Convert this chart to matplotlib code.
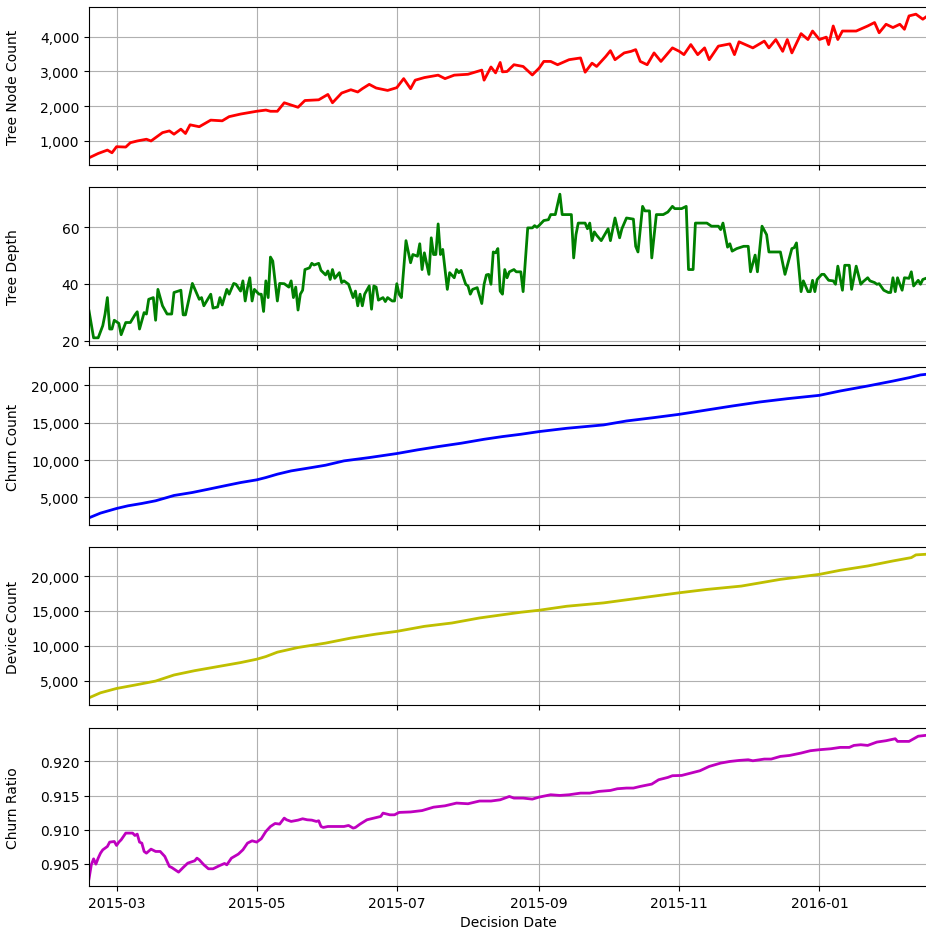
import matplotlib
matplotlib.use("Agg")
import matplotlib.pyplot as plt
import matplotlib.dates as mdates
import matplotlib.ticker as mticker
import pandas as pd


# Data (days counted from the first decision date)
start_date = pd.Timestamp("2015-02-17")
end_day = 365

node_days = [0, 4, 8, 10, 12, 16, 18, 21, 25, 27, 32, 35, 37, 40, 42, 44, 48, 53, 58, 61,
             66, 73, 77, 79, 82, 85, 91, 94, 100, 104, 106, 110, 114, 117, 119, 122, 125,
             130, 134, 137, 140, 142, 146, 152, 155, 159, 165, 171, 172, 175, 177, 179, 180,
             182, 185, 189, 193, 196, 198, 201, 204, 209, 214, 216, 219, 221, 225, 227, 229,
             233, 236, 238, 240, 243, 246, 249, 254, 257, 259, 262, 265, 268, 270, 274, 279,
             281, 283, 289, 294, 296, 299, 302, 304, 306, 310, 313, 315, 318, 321, 322, 324,
             326, 328, 334, 339, 342, 344, 347, 350, 353, 355, 357, 360, 363, 365]
node_count = [515, 640, 738, 660, 835, 825, 950, 1000, 1050, 1000, 1240, 1290, 1195, 1340,
              1215, 1465, 1410, 1600, 1580, 1700, 1775, 1855, 1890, 1855, 1855, 2100, 1970,
              2165, 2185, 2340, 2100, 2380, 2475, 2410, 2505, 2630, 2525, 2455, 2535, 2795,
              2505, 2750, 2825, 2895, 2795, 2895, 2920, 3040, 2750, 3130, 2960, 3260, 2990,
              3000, 3195, 3145, 2900, 3100, 3290, 3290, 3195, 3340, 3390, 2980, 3240, 3145,
              3435, 3600, 3340, 3535, 3580, 3630, 3290, 3195, 3535, 3290, 3680, 3580, 3485,
              3775, 3485, 3680, 3340, 3730, 3795, 3485, 3855, 3680, 3875, 3680, 3920, 3580,
              3920, 3535, 4090, 3920, 4165, 3920, 3990, 3775, 4310, 3920, 4165, 4165, 4310,
              4410, 4115, 4360, 4265, 4360, 4215, 4600, 4650, 4505, 4600]

depth_days = [0, 2, 4, 6, 7, 8, 9, 10, 11, 13, 14, 16, 18, 20, 21, 22, 24, 25, 26, 28, 29,
              30, 32, 34, 36, 37, 40, 41, 42, 45, 48, 49, 50, 53, 54, 56, 57, 58, 60, 61, 63,
              64, 66, 67, 68, 69, 70, 71, 72, 74, 75, 76, 77, 78, 79, 80, 82, 83, 85, 87, 88,
              89, 90, 91, 92, 93, 94, 96, 97, 98, 100, 101, 103, 104, 105, 106, 107, 109, 110,
              111, 113, 114, 115, 116, 117, 118, 119, 120, 122, 123, 124, 125, 126, 128, 129,
              130, 132, 133, 134, 135, 136, 138, 140, 141, 143, 144, 145, 146, 148, 149, 150,
              151, 152, 153, 154, 156, 157, 159, 160, 161, 162, 164, 165, 166, 167, 169, 171,
              172, 173, 174, 175, 176, 177, 178, 179, 180, 181, 182, 183, 185, 186, 188, 189,
              191, 193, 194, 195, 196, 198, 200, 201, 203, 205, 206, 210, 211, 212, 213, 216,
              217, 218, 219, 220, 221, 223, 226, 227, 229, 231, 232, 234, 237, 238, 239, 241,
              242, 244, 245, 247, 250, 252, 254, 255, 258, 260, 261, 263, 264, 269, 271, 274,
              275, 276, 278, 279, 280, 282, 285, 287, 288, 290, 291, 293, 295, 296, 301, 303,
              306, 307, 308, 310, 311, 313, 314, 315, 316, 317, 319, 320, 322, 324, 325, 326,
              328, 329, 331, 332, 334, 336, 337, 339, 340, 342, 343, 344, 346, 348, 349, 350,
              351, 352, 353, 354, 355, 357, 358, 359, 361, 362, 363, 365]
depth = [30.5, 21, 21, 25.3, 29.4, 35.2, 24.1, 24.1, 27.2, 26.1, 22.1, 26.4, 26.4, 29.1,
         30.2, 24.1, 29.9, 29.4, 34.6, 35.2, 27.2, 38.1, 32.3, 29.4, 29.4, 37, 37.8, 29.1,
         29.1, 40.2, 34.6, 35.2, 32.3, 36.4, 31.5, 31.9, 35.2, 32.6, 38.1, 36.4, 40.2, 39.9,
         37.5, 41.1, 34, 38.7, 42.2, 34, 38.1, 36.4, 36.4, 30.3, 41.1, 35.2, 49.5, 48.1, 34,
         40.2, 40.1, 38.9, 41.1, 35.2, 38.9, 30.8, 36.4, 37.8, 45.1, 45.7, 47.3, 46.7, 47.3,
         44.8, 43.2, 44.6, 41.6, 45.1, 42, 44, 40.5, 41.1, 39.9, 37.5, 35.2, 37.5, 32.3, 36.4,
         32.3, 36.4, 39.3, 31.1, 39.3, 38.9, 34.3, 35.2, 33.8, 35.2, 34, 34, 40.1, 36.4, 35.2,
         55.3, 47.5, 50.4, 49.8, 54.2, 45.1, 51, 43.4, 56.3, 50.4, 50.4, 61.2, 50.4, 52.2,
         38.1, 44, 42.2, 45.1, 44, 44.8, 39.9, 39.3, 36.4, 38.1, 38.7, 33.1, 39.9, 43.2, 43.4,
         39.9, 51.3, 51, 52.5, 37.5, 36.4, 45.1, 42.2, 44.3, 45.1, 44.3, 44.3, 37.3, 59.8,
         59.8, 60.6, 60, 60.7, 62.4, 62.7, 64.5, 64.5, 71.7, 64.5, 64.5, 49.2, 57.4, 61.5,
         61.5, 59.5, 61.5, 55.3, 58.4, 57.2, 55.3, 59.5, 55.3, 63.3, 56.3, 59.5, 63.3, 62.9,
         53.3, 51.3, 67.4, 65.8, 65.8, 49.2, 64.5, 64.5, 65.4, 67.4, 66.6, 66.6, 67.4, 45.1,
         45.1, 61.5, 61.5, 60.4, 60.4, 59.2, 61.5, 53, 54.2, 51.6, 52.5, 53.3, 53.3, 44.3,
         50.2, 44.3, 60.4, 57.4, 51.3, 51.3, 43.4, 52.5, 52.8, 54.5, 37.3, 41.1, 37.3, 37.3,
         41.3, 37.3, 41.6, 43.4, 43.4, 41.3, 41.1, 39.9, 46.3, 37.8, 46.6, 46.6, 38.1, 46.3,
         39.9, 40.8, 42.2, 41.1, 40.5, 39.9, 40.1, 37.8, 37, 37, 42.2, 37.3, 42.2, 39.9, 37.8,
         42.2, 42, 44.3, 39.3, 41.3, 39.9, 41.6, 42.2]

churn_days = [0, 5, 12, 17, 23, 29, 34, 37, 45, 52, 59, 66, 73, 77, 82, 88, 97, 103, 111,
              122, 134, 143, 152, 162, 172, 180, 188, 196, 208, 224, 234, 246, 257, 269, 280,
              292, 304, 318, 327, 339, 350, 357, 362, 365]
churn_count = [2280, 2910, 3530, 3890, 4200, 4560, 5000, 5270, 5670, 6110, 6560, 7000, 7360,
               7670, 8120, 8560, 9010, 9320, 9900, 10340, 10880, 11370, 11810, 12260, 12790,
               13150, 13460, 13820, 14260, 14710, 15240, 15690, 16130, 16710, 17240, 17780,
               18220, 18670, 19250, 19920, 20580, 21030, 21400, 21500]

device_days = [0, 5, 12, 20, 29, 37, 46, 56, 66, 73, 77, 82, 91, 103, 114, 125, 134, 146,
               158, 170, 180, 188, 196, 208, 224, 246, 257, 269, 284, 301, 318, 327, 339,
               350, 358, 360, 365]
device_count = [2550, 3270, 3890, 4380, 4950, 5820, 6440, 7020, 7600, 8080, 8460, 9090, 9760,
                10390, 11110, 11680, 12070, 12790, 13270, 13990, 14450, 14810, 15100, 15670,
                16150, 17120, 17600, 18080, 18560, 19520, 20240, 20820, 21440, 22160, 22640,
                23030, 23130]

ratio_days = [0, 1, 2, 3, 4, 5, 6, 8, 9, 11, 12, 13, 14, 16, 19, 20, 21, 22, 23, 24, 25, 27,
              29, 31, 33, 35, 36, 39, 41, 43, 46, 47, 48, 50, 52, 54, 57, 59, 60, 62, 65, 67,
              69, 71, 73, 75, 77, 79, 81, 83, 85, 86, 88, 91, 93, 95, 97, 99, 100, 101, 102,
              104, 107, 109, 111, 113, 115, 116, 118, 121, 124, 127, 128, 131, 133, 135, 140,
              145, 150, 155, 160, 165, 170, 175, 179, 183, 185, 189, 193, 196, 201, 205, 209,
              214, 218, 222, 227, 230, 234, 237, 240, 245, 248, 252, 254, 258, 262, 266, 270,
              275, 279, 283, 287, 289, 294, 297, 301, 305, 310, 314, 318, 323, 327, 331, 333,
              336, 339, 343, 347, 351, 352, 357, 361, 365]
churn_ratio = [0.90280, 0.90485, 0.90573, 0.90495, 0.90583, 0.90656, 0.90705, 0.90754,
               0.90818, 0.90827, 0.90769, 0.90818, 0.90852, 0.90950, 0.90950, 0.90915,
               0.90935, 0.90818, 0.90803, 0.90681, 0.90656, 0.90715, 0.90681, 0.90681,
               0.90608, 0.90461, 0.90446, 0.90378, 0.90446, 0.90510, 0.90544, 0.90583,
               0.90559, 0.90485, 0.90427, 0.90427, 0.90476, 0.90505, 0.90485, 0.90583,
               0.90642, 0.90705, 0.90803, 0.90837, 0.90818, 0.90867, 0.90974, 0.91047,
               0.91091, 0.91082, 0.91170, 0.91145, 0.91121, 0.91140, 0.91160, 0.91145,
               0.91140, 0.91121, 0.91131, 0.91047, 0.91033, 0.91047, 0.91047, 0.91047,
               0.91047, 0.91062, 0.91023, 0.91033, 0.91082, 0.91145, 0.91170, 0.91194,
               0.91243, 0.91218, 0.91218, 0.91253, 0.91260, 0.91280, 0.91330, 0.91350,
               0.91390, 0.91380, 0.91420, 0.91420, 0.91438, 0.91487, 0.91463, 0.91463,
               0.91448, 0.91478, 0.91512, 0.91502, 0.91512, 0.91536, 0.91536, 0.91561,
               0.91575, 0.91600, 0.91610, 0.91610, 0.91634, 0.91668, 0.91732, 0.91766,
               0.91791, 0.91795, 0.91829, 0.91864, 0.91927, 0.91976, 0.92000, 0.92015,
               0.92025, 0.92010, 0.92035, 0.92035, 0.92074, 0.92088, 0.92123, 0.92157,
               0.92172, 0.92186, 0.92206, 0.92206, 0.92235, 0.92245, 0.92235, 0.92284,
               0.92304, 0.92333, 0.92294, 0.92294, 0.92370, 0.92385]


def to_dates(days):
    return start_date + pd.to_timedelta(days, unit="D")


panels = [
    (node_days, node_count, "r", "Tree Node Count", True),
    (depth_days, depth, "g", "Tree Depth", False),
    (churn_days, churn_count, "b", "Churn Count", True),
    (device_days, device_count, "y", "Device Count", True),
    (ratio_days, churn_ratio, "m", "Churn Ratio", False),
]

fig = plt.figure(figsize=(9.26, 9.29), dpi=100)

left = 89 / 926
width = (927.4 - 89) / 926
height = 158 / 929
tops = [8, 188, 368, 548, 729]

axes = []
for i, (days, values, color, label, commas) in enumerate(panels):
    bottom = 1 - (tops[i] + 158) / 929
    ax = fig.add_axes([left, bottom, width, height], sharex=axes[0] if axes else None)
    ax.plot(to_dates(days), values, color=color, linewidth=2)
    ax.set_ylabel(label, fontsize=10)
    ax.yaxis.set_label_coords(-0.082, 0.5)
    ax.grid(True, color="#b0b0b0", linewidth=0.8)
    ax.tick_params(axis="both", labelsize=10)
    if commas:
        ax.yaxis.set_major_formatter(mticker.FuncFormatter(lambda v, p: "{:,.0f}".format(v)))
    if i < len(panels) - 1:
        ax.tick_params(axis="x", labelbottom=False)
    axes.append(ax)

axes[0].set_xlim(to_dates([0])[0], to_dates([end_day])[0])
axes[-1].xaxis.set_major_locator(mdates.MonthLocator(bymonth=[1, 3, 5, 7, 9, 11]))
axes[-1].xaxis.set_major_formatter(mdates.DateFormatter("%Y-%m"))
axes[-1].set_xlabel("Decision Date", fontsize=10)
axes[1].set_yticks([20, 40, 60])

fig.savefig("out.png", dpi=100)
